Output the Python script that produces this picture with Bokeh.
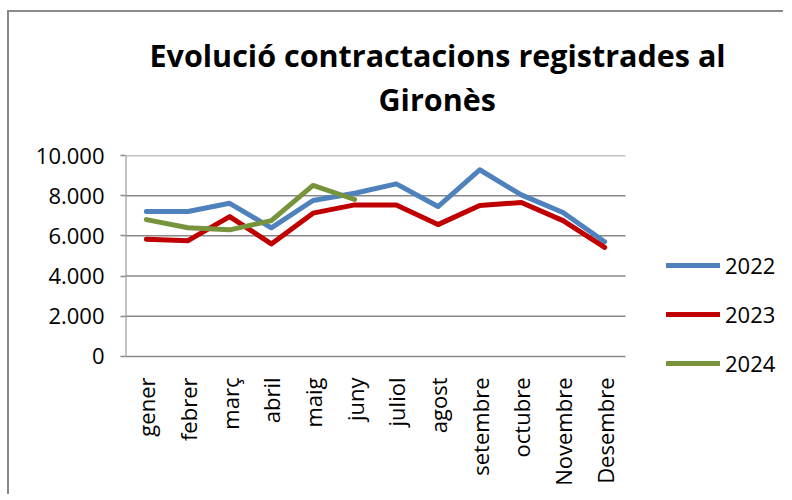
import numpy as np
from bokeh.plotting import figure
from bokeh.models import (ColumnDataSource, Range1d, FixedTicker,
                          Legend, LegendItem, Title)
from bokeh.embed import file_html
from bokeh.resources import INLINE

months = ["gener", "febrer", "març", "abril", "maig", "juny", "juliol", "agost",
          "setembre", "octubre", "Novembre", "Desembre"]
v2022 = [7210, 7210, 7620, 6400, 7760, 8120, 8590, 7460, 9290, 8040, 7160, 5710]
v2023 = [5830, 5760, 6960, 5600, 7130, 7540, 7540, 6560, 7510, 7660, 6760, 5430]
v2024 = [6810, 6400, 6300, 6760, 8510, 7810]
y_ticks = [0, 2000, 4000, 6000, 8000, 10000]
y_tick_labels = ["0", "2.000", "4.000", "6.000", "8.000", "10.000"]
series_names = ["2022", "2023", "2024"]
colors = ["#4F81BD", "#C00000", "#77933C"]

FONT = "Open Sans"
GRID = "#888888"

# layout: the plotting frame spans the chart area plus the legend area on the right
W, H = 776, 484
LEFT, TOP, BOTTOM = 116, 143, 118
CHART_PX = 500                      # pixel width of the 12 month slots
FRAME_W = W - LEFT
n = len(months)
x_end = n * FRAME_W / CHART_PX
y_top = y_ticks[-1]
y_start = -1100

xc = [i + 0.5 for i in range(n)]     # category centres

p = figure(width=W, height=H, x_range=Range1d(0, x_end),
           y_range=Range1d(y_start, y_top), output_backend="svg",
           toolbar_location=None, min_border_left=LEFT, min_border_right=0,
           min_border_top=TOP, min_border_bottom=BOTTOM,
           styles={"border-top": "2px solid #8a8a8a", "border-left": "2px solid #8a8a8a",
                   "margin-top": "10px", "margin-left": "7px"})
p.outline_line_color = None
p.xgrid.grid_line_color = None
p.ygrid.grid_line_color = None

# horizontal gridlines across the month slots only, and the vertical axis line
p.segment(x0=[0] * len(y_ticks), x1=[n] * len(y_ticks), y0=y_ticks, y1=y_ticks,
          line_color=GRID, line_width=1.5)
p.segment(x0=[0], x1=[0], y0=[y_ticks[0]], y1=[y_top], line_color=GRID, line_width=2)

renderers = []
for name, vals, c in zip(series_names, [v2022, v2023, v2024], colors):
    src = ColumnDataSource(dict(x=xc[:len(vals)], y=vals))
    r = p.line("x", "y", source=src, line_color=c, line_width=5,
               line_join="round", line_cap="round")
    renderers.append(r)

# titles (spacer first: closest to the frame)
spacer_top = Title(text=" ", text_font_size="1px", standoff=33, vertical_align="bottom")
t2 = Title(text="Gironès", align="left", offset=253, standoff=0, vertical_align="bottom",
           text_font=FONT, text_font_size="30.5px", text_font_style="bold", text_color="black")
t1 = Title(text="Evolució contractacions registrades al", align="left", offset=24,
           standoff=0, vertical_align="bottom", text_font=FONT, text_font_size="30.5px",
           text_font_style="bold", text_color="black")
p.add_layout(spacer_top, "above")
p.add_layout(t2, "above")
p.add_layout(t1, "above")

# y axis
p.yaxis.ticker = FixedTicker(ticks=y_ticks)
p.yaxis.major_label_overrides = {t: l for t, l in zip(y_ticks, y_tick_labels)}
p.yaxis.axis_line_color = None
p.yaxis.major_tick_line_color = GRID
p.yaxis.major_tick_line_width = 1.5
p.yaxis.major_tick_out = 5
p.yaxis.major_tick_in = 0
p.yaxis.minor_tick_line_color = None
p.yaxis.major_label_text_font = FONT
p.yaxis.major_label_text_font_size = "22px"
p.yaxis.major_label_text_color = "black"
p.yaxis.major_label_standoff = 16

# x axis (month names)
p.xaxis.ticker = FixedTicker(ticks=xc)
p.xaxis.major_label_overrides = {x: m for x, m in zip(xc, months)}
p.xaxis.axis_line_color = None
p.xaxis.major_tick_line_color = None
p.xaxis.minor_tick_line_color = None
p.xaxis.major_label_orientation = np.pi / 2
p.xaxis.major_label_text_font = FONT
p.xaxis.major_label_text_font_size = "22px"
p.xaxis.major_label_text_color = "black"
p.xaxis.major_label_standoff = -7

legend = Legend(items=[LegendItem(label=s, renderers=[r]) for s, r in zip(series_names, renderers)],
                location=(541, 0), orientation="vertical", padding=0, margin=0,
                spacing=19, glyph_width=54, glyph_height=20, label_height=20,
                label_text_font=FONT, label_text_font_size="22px", label_standoff=5,
                label_text_color="black",
                border_line_color=None, background_fill_alpha=0)
p.add_layout(legend, "center")

open("out.html", "w").write(file_html(p, INLINE))
